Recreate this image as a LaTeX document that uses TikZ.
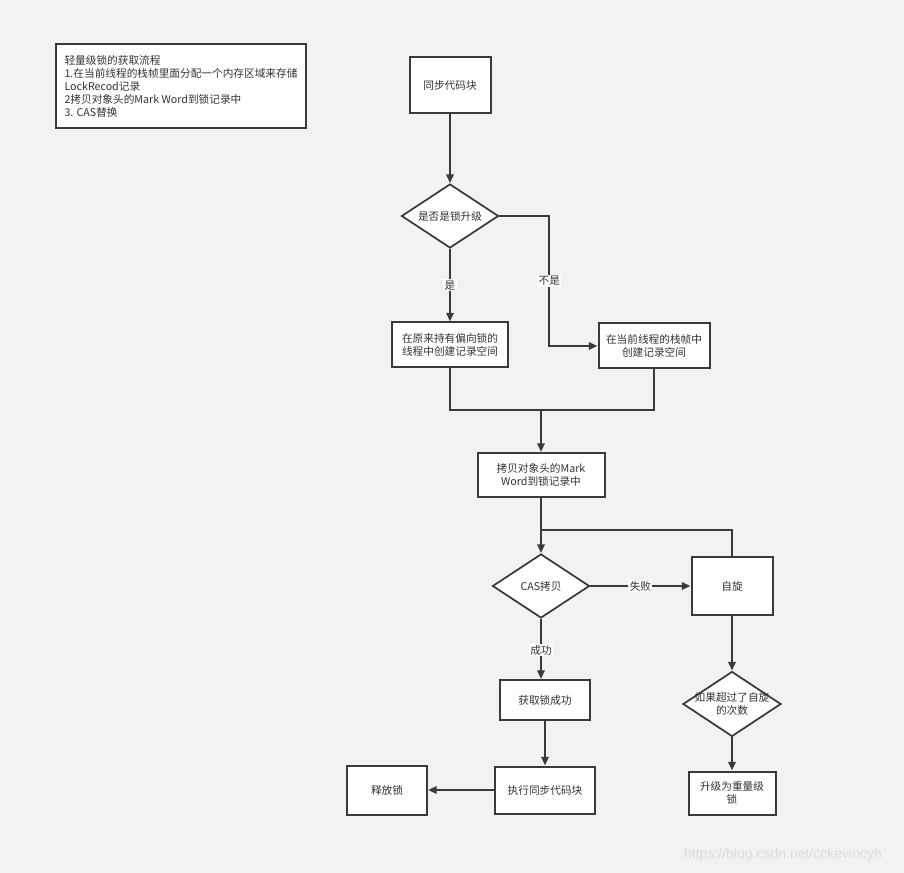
\documentclass[tikz,border=0pt]{standalone}
\usepackage{fontspec}
\setmainfont{Noto Sans CJK SC}
\newfontfamily\wmfont{Liberation Sans}
\usetikzlibrary{arrows.meta,shapes.geometric,positioning}
\definecolor{bgc}{HTML}{F2F2F2}
\definecolor{linec}{HTML}{3A3A3A}
\definecolor{txtc}{HTML}{333333}

\begin{document}
\begin{tikzpicture}[x=0.75pt,y=-0.75pt,
    box/.style={rectangle, draw=linec, line width=1.5pt, fill=white, align=center,
      inner sep=1pt, text=txtc, font=\fontsize{8}{10}\selectfont},
    dia/.style={diamond, draw=linec, line width=1.3pt, fill=white, inner sep=0pt},
    diatext/.style={align=center, inner sep=0pt, text=txtc, font=\fontsize{8}{10}\selectfont},
    flow/.style={draw=linec, line width=1.5pt, -{Triangle[length=6.5pt,width=5.5pt]}},
    wire/.style={draw=linec, line width=1.5pt},
    lbl/.style={fill=white, inner sep=1pt, text=txtc, font=\fontsize{8}{10}\selectfont}]
    % pixel size of the reference
    \def\px{0.75pt}
    \fill[bgc] (0,0) rectangle (904,873);
    \useasboundingbox (0,0) rectangle (904,873);

    % Note at the top left
    \node[box, align=left, anchor=north west, minimum width=250*\px, minimum height=84*\px,
      font=\fontsize{8}{9.75}\selectfont] (note) at (55,43)
      {轻量级锁的获取流程\\1.在当前线程的栈帧里面分配一个内存区域来存储\\LockRecod记录\\2拷贝对象头的Mark Word到锁记录中\\3. CAS替换};

    % Main column
    \node[box, minimum width=81*\px, minimum height=56*\px] (sync) at (450,85) {同步代码块};
    \node[dia, minimum width=97*\px, minimum height=64*\px,
      label={[diatext]center:是否是锁升级}] (upg) at (450,216) {};
    \node[box, minimum width=116*\px, minimum height=45*\px] (bias) at (450,345) {在原来持有偏向锁的\\线程中创建记录空间};
    \node[box, minimum width=111*\px, minimum height=45*\px] (cur) at (654,346) {在当前线程的栈帧中\\创建记录空间};
    \node[box, minimum width=127*\px, minimum height=44*\px] (copy) at (541,475) {拷贝对象头的Mark\\Word到锁记录中};
    \node[dia, minimum width=97*\px, minimum height=64*\px,
      label={[diatext]center:CAS拷贝}] (cas) at (541,586) {};
    \node[box, minimum width=81*\px, minimum height=58*\px] (spin) at (732,586) {自旋};
    \node[box, minimum width=90*\px, minimum height=40*\px] (ok) at (545,700) {获取锁成功};
    \node[box, minimum width=100*\px, minimum height=47*\px] (exec) at (545,790) {执行同步代码块};
    \node[box, minimum width=80*\px, minimum height=49*\px] (rel) at (387,790) {释放锁};
    \node[dia, minimum width=98*\px, minimum height=65*\px,
      label={[diatext]center:{如果超过了自旋\\的次数}}] (limit) at (732,704) {};
    \node[box, minimum width=87*\px, minimum height=43*\px] (heavy) at (732,793) {升级为重量级\\锁};

    % Connectors
    \coordinate (join1) at (541,410);
    \coordinate (join2) at (541,530);
    \draw[flow] (sync) -- (upg);
    \draw[flow] (upg) -- node[lbl]{是} (bias);
    \draw[flow] (upg.east) -- ++(50,0) |- node[lbl, pos=0.25]{不是} (cur.west);
    \draw[wire] (bias) |- (join1);
    \draw[wire] (cur) |- (join1);
    \draw[flow] (join1) -- (copy);
    \draw[wire] (spin) |- (join2);
    \draw[flow] (copy) -- (cas);
    \draw[flow] (cas) -- node[lbl]{失败} (spin);
    \draw[flow] (cas.south) -- node[lbl, pos=0.52]{成功} (cas.south |- ok.north);
    \draw[flow] (ok) -- (exec);
    \draw[flow] (exec) -- (rel);
    \draw[flow] (spin) -- (limit);
    \draw[flow] (limit) -- (heavy);

    % Watermark
    \node[text=black!14, font=\wmfont\fontsize{10.5}{12}\selectfont] (wm) at (783,855) {https://blog.csdn.net/cckevincyh};
\end{tikzpicture}
\end{document}
